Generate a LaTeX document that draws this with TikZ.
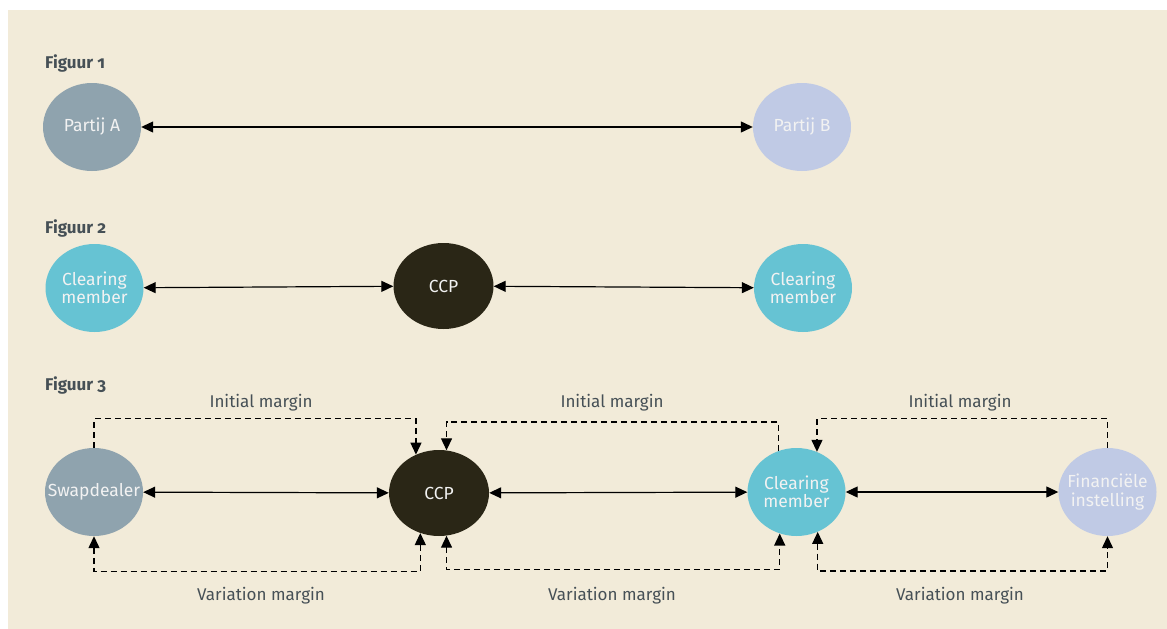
\documentclass[tikz,border=0pt]{standalone}
\usepackage{fontspec}
\setmainfont{Fira Sans}[Numbers=OldStyle]
\usetikzlibrary{shapes.geometric, arrows.meta}

\definecolor{bgbeige}{RGB}{242,235,217}
\definecolor{partyA}{RGB}{143,163,174}
\definecolor{partyB}{RGB}{192,202,229}
\definecolor{clearing}{RGB}{102,195,211}
\definecolor{ccpdark}{RGB}{42,38,22}
\definecolor{labelgray}{RGB}{70,80,86}

\newcommand{\nodeline}[1]{\makebox[0pt]{#1}}

\tikzset{
  party/.style={ellipse, minimum width=98pt, minimum height=88pt, inner sep=0pt,
    text=white!95!black, align=center, font=\fontsize{17.5}{18.5}\selectfont},
  flow/.style={line width=1.2pt, {Triangle[length=12pt,width=11pt]}-{Triangle[length=12pt,width=11pt]}},
  margin/.style={line width=1.3pt, dash pattern=on 6pt off 4pt, -{Triangle[length=12pt,width=11pt]}},
  twoway/.style={{Triangle[length=12pt,width=11pt]}-{Triangle[length=12pt,width=11pt]}},
  figlabel/.style={anchor=base west, inner sep=0pt, text=labelgray, font=\bfseries\fontsize{17}{19}\selectfont},
  marginlabel/.style={anchor=base, inner sep=0pt, text=labelgray, font=\fontsize{17}{19}\selectfont}
}

\begin{document}
\begin{tikzpicture}[x=1pt,y=1pt,yscale=-1,xscale=1]
\useasboundingbox (0,0) rectangle (1167,629);
\fill[bgbeige] (8,10) rectangle (1167,629);

% Figuur 1
\node[figlabel] (fig1) at (45,68) {Figuur 1};
\node[party, fill=partyA] (pa) at (92,127) {Partij A};
\node[party, fill=partyB] (pb) at (802,127) {Partij B};
\draw[flow] (pa) -- (pb);

% Figuur 2
\node[figlabel] (fig2) at (45,233) {Figuur 2};
\node[party, fill=clearing] (cm2l) at (94.5,288) {\nodeline{Clearing}\\\nodeline{member}};
\node[party, fill=ccpdark, minimum width=100pt, minimum height=86pt] (ccp2) at (443.5,286) {CCP};
\node[party, fill=clearing] (cm2r) at (803,288) {\nodeline{Clearing}\\\nodeline{member}};
\draw[flow] (cm2l) -- (ccp2);
\draw[flow] (ccp2) -- (cm2r);

% Figuur 3
\node[figlabel] (fig3) at (45,390) {Figuur 3};
\node[party, fill=partyA] (sd) at (94,492) {\nodeline{Swapdealer}};
\node[party, fill=ccpdark, minimum width=100pt, minimum height=86pt] (ccp3) at (439,493) {CCP};
\node[party, fill=clearing] (cm3) at (796.5,492) {\nodeline{Clearing}\\\nodeline{member}};
\node[party, fill=partyB] (fi3) at (1107.5,492) {\nodeline{Financiële}\\\nodeline{instelling}};
\draw[flow] (sd) -- (ccp3);
\draw[flow] (ccp3) -- (cm3);
\draw[flow] (cm3) -- (fi3);

% Initial margin
\draw[margin] (sd.north) -- ++(0,-29) -| (ccp3.121);
\draw[margin] (cm3.114) -- ++(0,-29) -| (ccp3.80);
\draw[margin] (fi3.north) -- ++(0,-29) -| (cm3.63);
\node[marginlabel] (im1) at (261,407) {Initial margin};
\node[marginlabel] (im2) at (612,407) {Initial margin};
\node[marginlabel] (im3) at (960,407) {Initial margin};

% Variation margin
\draw[margin, twoway] (sd.south) -- ++(0,35) -| (ccp3.-115);
\draw[margin, twoway] (ccp3.-80) -- ++(0,34) -| (cm3.-112);
\draw[margin, twoway] (cm3.-62) -- ++(0,39) -| (fi3.south);
\node[marginlabel] (vm1) at (261,600) {Variation margin};
\node[marginlabel] (vm2) at (612,600) {Variation margin};
\node[marginlabel] (vm3) at (960,600) {Variation margin};

\end{tikzpicture}
\end{document}
